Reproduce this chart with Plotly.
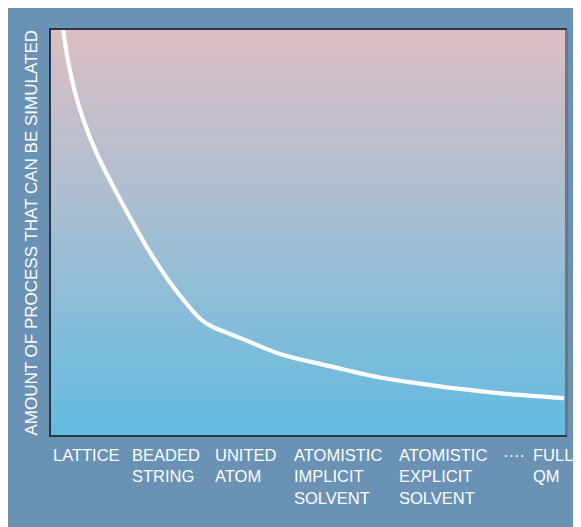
import plotly.graph_objects as go

# Curve (x: 0-100 across the axis, y: 0-100 up the axis)
curve_x = [2.39, 3.27, 4.55, 6.30, 8.87, 12.18, 15.64, 19.36, 23.85, 29.30, 31.77,
           38.07, 44.55, 54.28, 64.0, 71.8, 79.6, 89.3, 99.8]
curve_y = [100.0, 92.6, 85.2, 77.8, 69.6, 61.2, 53.1, 44.9, 36.5, 28.4, 26.5,
           23.3, 20.0, 17.0, 14.2, 12.7, 11.4, 10.1, 9.1]
knee_index = 10  # curve bends sharply at the UNITED ATOM point

# Category labels along the bottom and their left positions on the x axis
tick_labels = ["LATTICE", "BEADED<br>STRING", "UNITED<br>ATOM",
               "ATOMISTIC<br>IMPLICIT<br>SOLVENT", "ATOMISTIC<br>EXPLICIT<br>SOLVENT",
               "····", "FULL<br>QM"]
tick_pos = [0.0, 15.4, 31.5, 46.9, 67.3, 87.6, 93.4]

y_title = "AMOUNT OF PROCESS THAT CAN BE SIMULATED"

OUTER = "#6a92b4"
FONT = "Liberation Sans, Arial, sans-serif"

fig = go.Figure()

# gradient background of the plot area
fig.add_trace(go.Scatter(
    x=[0, 100, 100, 0, 0], y=[0, 0, 100, 100, 0],
    mode="lines", line=dict(width=0), fill="toself",
    fillgradient=dict(type="vertical",
                      colorscale=[[0, "#62bbe0"], [0.5, "#a2bed3"], [1, "#dcbfc4"]]),
    hoverinfo="skip", showlegend=False,
))

for seg in (slice(0, knee_index + 1), slice(knee_index, None)):
    fig.add_trace(go.Scatter(
        x=curve_x[seg], y=curve_y[seg], mode="lines",
        line=dict(color="white", width=4.2, shape="spline", smoothing=1.0),
        showlegend=False, hoverinfo="skip",
    ))

L, R, T, B = 43, 24, 22, 100
W, H = 581, 527
pw, ph = W - L - R, H - T - B

shapes = [
    # right shadow edge
    dict(type="line", xref="paper", yref="paper",
         x0=1 + 1.5 / pw, x1=1 + 1.5 / pw, y0=0, y1=1,
         line=dict(color="#6f7680", width=3), layer="above"),
]

annotations = []
for lab, xp in zip(tick_labels, tick_pos):
    annotations.append(dict(
        x=xp, xref="x", y=-9 / ph, yref="paper",
        text=lab, showarrow=False, xanchor="left", yanchor="top", align="left",
        font=dict(family=FONT, size=16.5, color="white"),
    ))

annotations.append(dict(
    x=-(L - 23) / pw, xref="paper", y=0.5, yref="paper",
    text=y_title, textangle=-90, showarrow=False,
    xanchor="center", yanchor="middle",
    font=dict(family=FONT, size=17, color="white"),
))

fig.update_layout(
    width=W, height=H,
    margin=dict(l=L, r=R, t=T, b=B),
    paper_bgcolor=OUTER, plot_bgcolor=OUTER,
    shapes=shapes, annotations=annotations,
    xaxis=dict(range=[0, 100], showgrid=False, zeroline=False, showticklabels=False,
               ticks="", showline=True, mirror=True, linecolor="#2c3640", linewidth=1.5),
    yaxis=dict(range=[0, 100], showgrid=False, zeroline=False, showticklabels=False,
               ticks="", showline=True, mirror=True, linecolor="#2c3640", linewidth=1.5),
)

fig.write_html("out.html")
